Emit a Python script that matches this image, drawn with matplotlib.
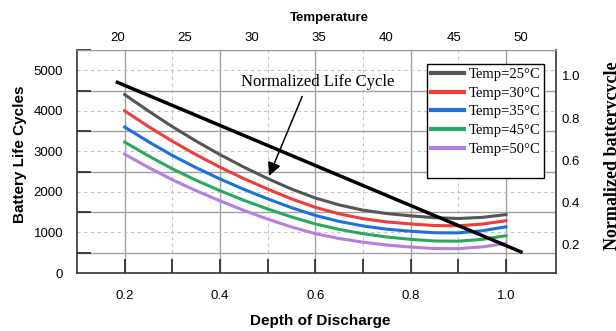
import numpy as np
import matplotlib
matplotlib.use("Agg")
import matplotlib.pyplot as plt

# depth of discharge vs life cycles, one curve per temperature
dod=[0.2,0.25,0.3,0.35,0.4,0.45,0.5,0.55,0.6,0.65,0.7,0.75,0.8,0.85,0.9,0.95,1.0]
cycles_25=[4400,3995,3610,3253,2920,2612,2330,2070,1850,1680,1550,1466,1410,1364,1345,1372,1440]
cycles_30=[4000,3611,3250,2917,2610,2328,2070,1828,1620,1460,1340,1260,1210,1171,1165,1206,1290]
cycles_35=[3600,3237,2900,2597,2320,2064,1830,1611,1420,1273,1160,1081,1030,993,990,1041,1140]
cycles_45=[3230,2887,2570,2287,2030,1794,1580,1382,1210,1076,970,888,830,790,785,830,920]
cycles_50=[2930,2604,2300,2029,1780,1545,1330,1135,970,850,760,690,640,604,600,644,730]
labels=["Temp=25\u00b0C","Temp=30\u00b0C","Temp=35\u00b0C","Temp=45\u00b0C","Temp=50\u00b0C"]
colors=["#555555","#f03c3c","#1f6fdc","#2aa861","#b47ee2"]

# normalized life cycle vs temperature (top / right axes)
temp=[20,50]
norm_cycle=[0.97,0.167]

sans="Liberation Sans"
serif="Liberation Serif"
plt.rcParams['font.family']=[sans,'DejaVu Sans']

fig=plt.figure(figsize=(6.16,3.31),dpi=100)
ax=fig.add_axes([0.125,0.1752,0.7776,0.6737])

for y,lab,c in zip([cycles_25,cycles_30,cycles_35,cycles_45,cycles_50],labels,colors):
	ax.plot(dod,y,color=c,lw=2.2,label=lab,solid_joinstyle='round')
# empty row at the bottom of the legend box
ax.plot([],[],color='none',label='Temp')

ax.set_xlim(0.1,1.105)
ax.set_ylim(0,5500)
ax.set_xticks([0.2,0.4,0.6,0.8,1.0])
ax.set_xticks([0.3,0.5,0.7,0.9],minor=True)
ax.set_xticklabels(["0.2","0.4","0.6","0.8","1.0"])
ax.set_yticks(np.arange(0,5001,1000))
ax.set_yticks(np.arange(500,5501,1000),minor=True)
ax.tick_params(axis='x',which='both',direction='in',length=10,width=1.3,color='#333333',pad=12,labelsize=9.5)
ax.tick_params(axis='y',which='major',length=0,pad=10,labelsize=9.5)
ax.tick_params(axis='y',which='minor',direction='in',length=10,width=1.3,color='#333333')
ax.xaxis.grid(True,which='major',color='#a0a0a0',ls='-',lw=1.0)
ax.xaxis.grid(True,which='minor',color='#c4c4c4',ls=(0,(3,3)),lw=0.8)
ax.yaxis.grid(True,which='major',color='#c4c4c4',ls=(0,(3,3)),lw=0.8)
ax.yaxis.grid(True,which='minor',color='#a0a0a0',ls='-',lw=1.0)
for s in ['left','bottom','right']:
	ax.spines[s].set_color('#333333');ax.spines[s].set_linewidth(1.2)
ax.spines['top'].set_color('#999999')

ax.set_xlabel("Depth of Discharge",fontsize=11,fontweight='bold')
ax.xaxis.set_label_coords(0.507,-0.185)
ax.set_ylabel("Battery Life Cycles",fontsize=11,fontweight='bold')
ax.yaxis.set_label_coords(-0.104,0.534)

ax.annotate("Normalized Life Cycle",xy=(0.503,2395),xytext=(0.604,4716),
	ha='center',va='center',fontsize=12,family=serif,
	arrowprops=dict(arrowstyle='-|>',color='black',lw=1.1,mutation_scale=20,
		shrinkA=3,shrinkB=0,relpos=(0.42,0.0)))

leg=ax.legend(loc='upper right',bbox_to_anchor=(0.975,0.937),borderaxespad=0,
	prop={'family':serif,'size':10.5},handlelength=2.3,handletextpad=0.3,
	labelspacing=0.38,borderpad=0.25,fancybox=False,framealpha=1,edgecolor='black')
leg.get_frame().set_linewidth(1.0)
for h in leg.get_lines():
	h.set_linewidth(3.0)
leg.get_texts()[-1].set_color('none')

# right axis
ax2=ax.twinx()
ax2.set_ylim(0.067,1.123)
ax2.set_yticks([0.2,0.4,0.6,0.8,1.0])
ax2.tick_params(axis='y',length=0,pad=4,labelsize=9.5)
ax2.set_ylabel("Normalized batterycycle",fontsize=13,fontweight='bold',family=serif)
ax2.yaxis.set_label_coords(1.100,0.525)
for s in ax2.spines.values():
	s.set_visible(False)

# top axis
ax3=ax2.twiny()
ax3.set_xlim(17.0,52.6)
ax3.set_xticks([20,25,30,35,40,45,50])
ax3.tick_params(axis='x',length=0,pad=4,labelsize=9.5)
ax3.set_xlabel("Temperature",fontsize=9.5,fontweight='bold')
ax3.xaxis.set_label_coords(0.526,1.128)
for s in ax3.spines.values():
	s.set_visible(False)
ax3.plot(temp,norm_cycle,color='black',lw=2.5)

fig.savefig("out.png",dpi=100)
